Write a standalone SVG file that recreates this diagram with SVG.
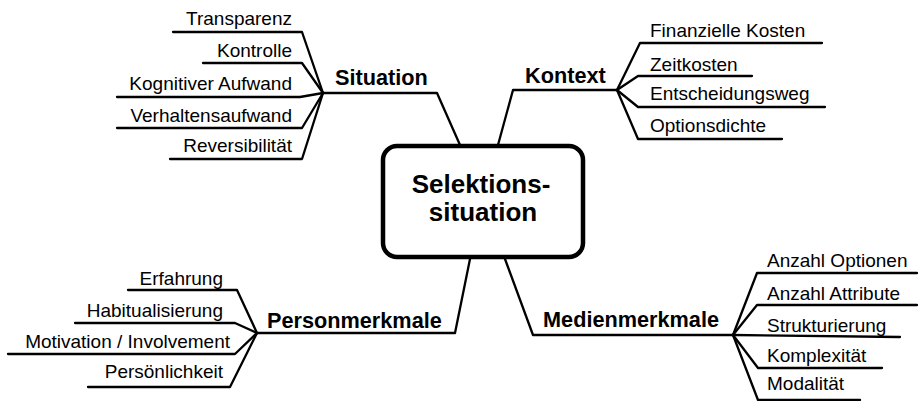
<svg xmlns="http://www.w3.org/2000/svg" width="918" height="401" viewBox="0 0 918 401">
<style>
.c{fill:none;stroke:#000;stroke-width:2.3;stroke-linejoin:round;stroke-linecap:round}
.l{font-family:"Liberation Sans",Arial,sans-serif;font-size:19px;fill:#000}
.b{font-family:"Liberation Sans",Arial,sans-serif;font-size:21.7px;font-weight:bold;fill:#000}
.m{font-family:"Liberation Sans",Arial,sans-serif;font-size:26px;font-weight:bold;fill:#000;text-anchor:middle}
.e{text-anchor:end}
</style>
<rect width="918" height="401" fill="#fff"/>
<g id="connectors">
<path class="c" d="M460,145 L437,93 L323,93"/>
<path class="c" d="M173,32 L302,32 L323,93"/>
<path class="c" d="M203,63 L302,63 L323,93"/>
<path class="c" d="M117,97 L300,97 L323,93"/>
<path class="c" d="M117,128 L302,128 L323,93"/>
<path class="c" d="M170,159 L302,159 L323,93"/>
<path class="c" d="M498,145 L513,90 L617,90"/>
<path class="c" d="M617,90 L640,43 L822,43"/>
<path class="c" d="M617,90 L638,76 L752,76"/>
<path class="c" d="M617,90 L638,107 L825,107"/>
<path class="c" d="M617,90 L638,139 L782,139"/>
<path class="c" d="M470,259 L455,333 L257,333"/>
<path class="c" d="M128,290 L237,290 L257,333"/>
<path class="c" d="M75,323 L235,323 L257,333"/>
<path class="c" d="M8,354 L235,354 L257,333"/>
<path class="c" d="M88,387 L230,387 L257,333"/>
<path class="c" d="M505,259 L533,335 L733,335"/>
<path class="c" d="M733,335 L757,273 L917,273"/>
<path class="c" d="M733,335 L757,305 L917,305"/>
<path class="c" d="M733,335 L900,337"/>
<path class="c" d="M733,335 L758,368 L882,368"/>
<path class="c" d="M733,335 L758,400 L860,400"/>
</g>
<g id="center">
<rect x="383" y="146" width="200" height="111" rx="14" ry="14" fill="#fff" stroke="#000" stroke-width="4.5"/>
<text class="m" x="481" y="193">Selektions-</text>
<text class="m" x="483" y="221">situation</text>
</g>
<g id="situation">
<text class="b" x="335" y="85">Situation</text>
<text class="l e" x="292" y="25">Transparenz</text>
<text class="l e" x="292" y="57">Kontrolle</text>
<text class="l e" x="292" y="90">Kognitiver Aufwand</text>
<text class="l e" x="292" y="122">Verhaltensaufwand</text>
<text class="l e" x="292" y="152">Reversibilität</text>
</g>
<g id="kontext">
<text class="b" x="525" y="83">Kontext</text>
<text class="l" x="650" y="37">Finanzielle Kosten</text>
<text class="l" x="650" y="71">Zeitkosten</text>
<text class="l" x="650" y="100">Entscheidungsweg</text>
<text class="l" x="650" y="132">Optionsdichte</text>
</g>
<g id="personmerkmale">
<text class="b" x="267" y="328">Personmerkmale</text>
<text class="l e" x="223" y="285">Erfahrung</text>
<text class="l e" x="223" y="317">Habitualisierung</text>
<text class="l e" x="230" y="348">Motivation / Involvement</text>
<text class="l e" x="223" y="378">Persönlichkeit</text>
</g>
<g id="medienmerkmale">
<text class="b" x="543" y="327">Medienmerkmale</text>
<text class="l" x="767" y="267">Anzahl Optionen</text>
<text class="l" x="767" y="300">Anzahl Attribute</text>
<text class="l" x="767" y="332">Strukturierung</text>
<text class="l" x="767" y="362">Komplexität</text>
<text class="l" x="767" y="390">Modalität</text>
</g>
</svg>
